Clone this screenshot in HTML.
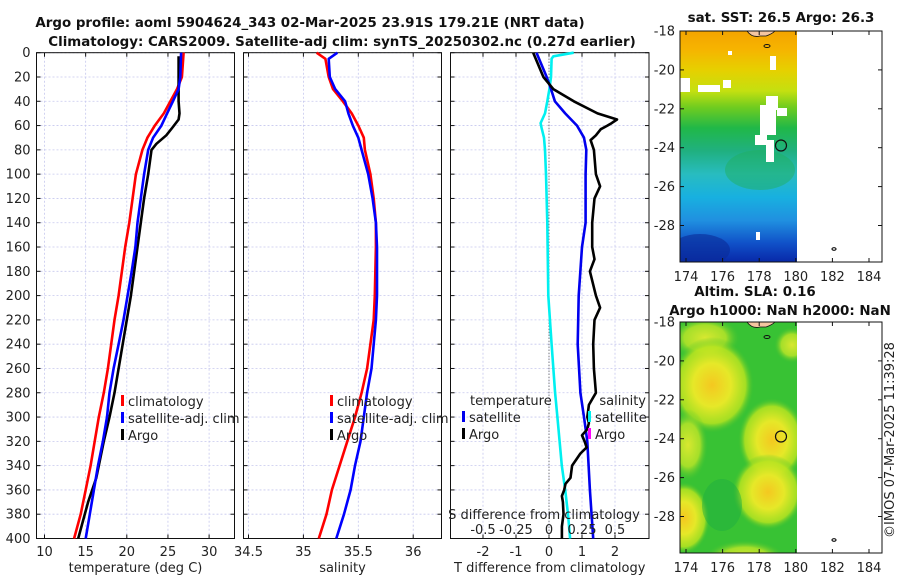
<!DOCTYPE html>
<html><head><meta charset="utf-8"><style>
html,body{margin:0;padding:0;background:#fff;}
svg{display:block;font-family:"DejaVu Sans","Liberation Sans",sans-serif;}
.t{font-size:13px;fill:#222;}
.ttl{font-size:13.4px;font-weight:bold;fill:#111;}
</style></head><body>
<svg id="fig" width="900" height="580" viewBox="0 0 900 580">
<defs>
<linearGradient id="sstg" x1="0" y1="0" x2="0" y2="1">
<stop offset="0" stop-color="#f4a400"/><stop offset="0.08" stop-color="#f6b400"/>
<stop offset="0.17" stop-color="#e6d000"/><stop offset="0.26" stop-color="#c4e010"/>
<stop offset="0.33" stop-color="#70cc20"/><stop offset="0.42" stop-color="#20b848"/>
<stop offset="0.52" stop-color="#20b080"/><stop offset="0.62" stop-color="#28bcc0"/>
<stop offset="0.72" stop-color="#18b0e0"/><stop offset="0.82" stop-color="#2090e0"/>
<stop offset="0.92" stop-color="#1050c8"/><stop offset="1" stop-color="#0828a8"/>
</linearGradient>
<radialGradient id="blob"><stop offset="0" stop-color="#f4c820"/><stop offset="0.45" stop-color="#e6e828"/><stop offset="0.8" stop-color="#b8e420" stop-opacity="0.85"/><stop offset="1" stop-color="#40c030" stop-opacity="0"/></radialGradient>
<radialGradient id="blob2"><stop offset="0" stop-color="#d8e830"/><stop offset="0.6" stop-color="#b8e428" stop-opacity="0.85"/><stop offset="1" stop-color="#40c030" stop-opacity="0"/></radialGradient>
<clipPath id="m1c"><rect x="680" y="31" width="117" height="231"/></clipPath>
<clipPath id="m2c"><rect x="680" y="322" width="117" height="231"/></clipPath>
</defs>

<text class="ttl" x="310" y="27" text-anchor="middle">Argo profile: aoml 5904624_343 02-Mar-2025 23.91S 179.21E (NRT data)</text>
<text class="ttl" x="342" y="46" text-anchor="middle">Climatology: CARS2009. Satellite-adj clim: synTS_20250302.nc (0.27d earlier)</text>

<g id="p1"></g>
<g id="p2"></g>
<g id="p3"></g>

<!-- Map 1 -->
<g>
<text class="ttl" x="781" y="22" text-anchor="middle">sat. SST: 26.5 Argo: 26.3</text>
<g clip-path="url(#m1c)">
<rect x="680" y="31" width="117" height="231" fill="url(#sstg)"/>
<ellipse cx="760" cy="170" rx="35" ry="20" fill="#20b060" opacity="0.5"/>
<ellipse cx="700" cy="250" rx="30" ry="16" fill="#0a2c98" opacity="0.6"/>
<rect x="680" y="78" width="10" height="14" fill="#fff"/>
<rect x="698" y="85" width="22" height="7" fill="#fff"/>
<rect x="723" y="80" width="8" height="8" fill="#fff"/>
<rect x="766" y="96" width="12" height="14" fill="#fff"/>
<rect x="760" y="105" width="16" height="30" fill="#fff"/>
<rect x="777" y="108" width="10" height="8" fill="#fff"/>
<rect x="755" y="135" width="12" height="10" fill="#fff"/>
<rect x="766" y="140" width="8" height="22" fill="#fff"/>
<rect x="770" y="56" width="6" height="14" fill="#fff"/>
<rect x="728" y="51" width="4" height="4" fill="#fff"/>
<rect x="756" y="232" width="4" height="8" fill="#fff"/>
<path d="M747 31 Q752 38 760 36 L766 36 Q772 34 775 31 Z" fill="#f5c6a0" stroke="#111" stroke-width="0.8"/>
</g>
<rect x="680" y="31" width="202" height="231" fill="none" stroke="#111" stroke-width="1"/>
<circle cx="781" cy="145.5" r="5.5" fill="none" stroke="#111" stroke-width="1.2"/>
<ellipse cx="767" cy="46" rx="3" ry="1.5" fill="none" stroke="#111"/>
<ellipse cx="834" cy="249" rx="2" ry="1.3" fill="none" stroke="#111" stroke-width="1.2"/>
<g id="m1ax"></g>
</g>

<!-- Map 2 -->
<g>
<text class="ttl" x="755" y="296" text-anchor="middle">Altim. SLA: 0.16</text>
<text class="ttl" x="780" y="315" text-anchor="middle">Argo h1000: NaN h2000: NaN</text>
<g clip-path="url(#m2c)">
<rect x="680" y="322" width="117" height="231" fill="#38c234"/>
<ellipse cx="705" cy="338" rx="35" ry="22" fill="url(#blob2)"/>
<ellipse cx="712" cy="385" rx="42" ry="48" fill="url(#blob)"/>
<ellipse cx="688" cy="445" rx="20" ry="36" fill="url(#blob2)"/>
<ellipse cx="772" cy="440" rx="34" ry="42" fill="url(#blob)"/>
<ellipse cx="768" cy="492" rx="36" ry="38" fill="url(#blob)"/>
<ellipse cx="684" cy="518" rx="26" ry="36" fill="url(#blob)"/>
<ellipse cx="745" cy="558" rx="40" ry="18" fill="url(#blob2)"/>
<ellipse cx="792" cy="345" rx="18" ry="18" fill="url(#blob2)"/>
<ellipse cx="722" cy="505" rx="20" ry="26" fill="#1eae40" opacity="0.5"/>
<path d="M747 322 Q752 329 760 327 L766 327 Q772 325 775 322 Z" fill="#f5c6a0" stroke="#111" stroke-width="0.8"/>
</g>
<rect x="680" y="322" width="202" height="231" fill="none" stroke="#111" stroke-width="1"/>
<circle cx="781" cy="436.5" r="5.5" fill="none" stroke="#111" stroke-width="1.2"/>
<ellipse cx="767" cy="337" rx="3" ry="1.5" fill="none" stroke="#111"/>
<ellipse cx="834" cy="540" rx="2" ry="1.3" fill="none" stroke="#111" stroke-width="1.2"/>
<g id="m2ax"></g>
</g>

<text class="t" transform="translate(894,440) rotate(-90)" text-anchor="middle" font-size="13.5px">©IMOS 07-Mar-2025 11:39:28</text>

<script>
// ---- depth axis ----
const depthTicks = [0,20,40,60,80,100,120,140,160,180,200,220,240,260,280,300,320,340,360,380,400];
// ---- panel 1: temperature ----
const tempTicks = [10,15,20,25,30];
const climTDepth = [0,20,30,40,50,60,70,80,100,120,140,160,180,200,220,240,260,280,300,320,340,360,380,400];
const climT = [26.9,26.7,26.1,25.3,24.5,23.4,22.5,21.9,21.1,20.7,20.3,19.8,19.4,19.0,18.5,18.1,17.7,17.2,16.6,16.1,15.6,15.0,14.4,13.6];
const satTDepth = [0,20,30,40,50,60,70,80,100,120,140,160,180,200,220,240,260,280,300,320,340,360,380,400];
const satT = [26.6,26.5,26.3,25.6,24.9,24.2,23.2,22.6,22.1,21.7,21.3,21.05,20.6,20.1,19.6,19.0,18.4,17.9,17.6,17.1,16.5,16.0,15.5,15.0];
const argoTDepth = [3,20,40,50,55,62,68,75,80,100,120,140,160,180,200,220,240,260,280,300,320,340,350,360,370,380,400];
const argoT = [26.3,26.3,26.3,26.4,26.3,25.5,24.8,23.6,23.0,22.6,22.1,21.7,21.3,20.9,20.5,20.0,19.5,19.0,18.5,17.9,17.2,16.6,16.3,15.8,15.3,14.9,14.1];
// ---- panel 2: salinity ----
const salTicks = [34.5,35,35.5,36];
const climSDepth = [0,5,20,30,40,50,60,70,80,100,120,140,160,200,220,240,260,280,300,320,340,360,380,400];
const climS = [35.12,35.2,35.23,35.27,35.36,35.44,35.5,35.55,35.56,35.61,35.64,35.66,35.66,35.65,35.64,35.61,35.58,35.53,35.47,35.40,35.33,35.26,35.21,35.14];
const satSDepth = [0,5,20,30,40,50,60,70,80,100,120,140,160,200,220,240,260,280,300,320,340,360,380,400];
const satS = [35.31,35.23,35.24,35.29,35.38,35.41,35.45,35.5,35.53,35.59,35.63,35.66,35.67,35.67,35.66,35.64,35.62,35.58,35.55,35.52,35.47,35.43,35.37,35.30];
// ---- panel 3: differences ----
const dTTicks = [-2,-1,0,1,2];
const dSTicks = [-0.5,-0.25,0,0.25,0.5];
const dSTickLabels = ["-0.5","-0.25","0","0.25","0.5"];
const argoDTDepth = [0,20,30,40,50,55,58,60,63,68,72,80,100,110,120,140,160,170,180,200,210,220,240,260,280,290,300,305,310,315,320,325,330,340,350,355,360,365,370,380,390,400];
const argoDT = [-0.48,-0.17,0.13,0.75,1.47,2.06,1.9,1.77,1.57,1.42,1.26,1.36,1.42,1.55,1.38,1.31,1.31,1.38,1.24,1.42,1.55,1.38,1.34,1.36,1.42,1.21,1.16,1.21,1.16,1.0,1.08,1.14,0.95,0.7,0.65,0.5,0.46,0.39,0.42,0.44,0.39,0.39];
const satDTDepth = [0,20,30,40,50,60,70,80,100,140,160,200,240,280,300,320,360,400];
const satDT = [-0.38,-0.07,0.06,0.18,0.49,0.85,1.06,1.13,1.11,1.11,1.0,0.9,0.87,0.95,1.06,1.16,1.24,1.34];
const satDSDepth = [0,3,5,20,30,40,50,58,62,70,80,100,140,200,240,280,300,320,340,360,380,400];
const satDS = [0.187,0.033,0.02,0.015,0.003,-0.013,-0.03,-0.064,-0.056,-0.038,-0.03,-0.023,-0.013,-0.005,0.02,0.046,0.064,0.08,0.097,0.123,0.144,0.16];
// ---- map ticks ----
const lonTicks = [174,176,178,180,182,184];
const latTicks = [-18,-20,-22,-24,-26,-28];

const NS = "http://www.w3.org/2000/svg";
const TOP = 52.7, BOT = 538.5;
function yD(d){ return TOP + (d/400)*(BOT-TOP); }
function mk(tag, attrs, parent){ const e=document.createElementNS(NS,tag); for(const k in attrs) e.setAttribute(k,attrs[k]); parent.appendChild(e); return e; }

function panel(g, x0, x1, xs, xticks, labels, showY, label){
  for (const d of depthTicks){
    const l = mk('line',{x1:x0,x2:x1,y1:yD(d),y2:yD(d),stroke:'#c6c8ee','stroke-width':0.8,'stroke-dasharray':'2,2'},g);
    
    
    mk('line',{x1:x0,x2:x0+4,y1:yD(d),y2:yD(d),stroke:'#111'},g);
    mk('line',{x1:x1-4,x2:x1,y1:yD(d),y2:yD(d),stroke:'#111'},g);
    if (showY){
      const t = mk('text',{x:x0-6,y:yD(d)+4.5,'text-anchor':'end',class:'t'},g);
      t.textContent = d;
      
      
    }
  }
  xticks.forEach((v,i)=>{
    const X = xs(v);
    const l = mk('line',{x1:X,x2:X,y1:TOP,y2:BOT,stroke:'#c6c8ee','stroke-width':0.8,'stroke-dasharray':'2,2'},g);
    
    
    mk('line',{x1:X,x2:X,y1:BOT-4,y2:BOT,stroke:'#111'},g);
    mk('line',{x1:X,x2:X,y1:TOP,y2:TOP+4,stroke:'#111'},g);
    const t = mk('text',{x:X,y:556,'text-anchor':'middle',class:'t'},g);
    t.textContent = labels[i];
    
    
  });
  const r = mk('rect',{x:x0,y:TOP,width:x1-x0,height:BOT-TOP,fill:'none',stroke:'#111','stroke-width':1},g);
  
  
  const al = mk('text',{x:(x0+x1)/2,y:572,'text-anchor':'middle',class:'t','font-size':'14.5px'},g);
  al.textContent = label;
  
  
}
function line(g, xs, depths, vals, color, name, w){
  const d = depths.map((dd,i)=>(i?'L':'M')+xs(vals[i]).toFixed(1)+' '+yD(dd).toFixed(1)).join(' ');
  const p = mk('path',{d:d,fill:'none',stroke:color,'stroke-width':w||2.6,'stroke-linejoin':'round'},g);
  
  
}
function legend(g, x, y, items){
  items.forEach((it,i)=>{
    mk('rect',{x:x,y:y+i*17-6,width:3,height:11,fill:it[1]},g);
    const t = mk('text',{x:x+7,y:y+i*17+5,class:'t','font-size':'14px'},g);
    t.textContent = it[0];
    
    
  });
}

// Panel 1
const p1 = document.getElementById('p1');
const xT = v => 44.5 + (v-10)*8.23;
panel(p1, 36.5, 234.5, xT, tempTicks, tempTicks.map(String), true, 'temperature (deg C)');
line(p1, xT, climTDepth, climT, '#ff0000', 'climatology-temp-line');
line(p1, xT, argoTDepth, argoT, '#000000', 'argo-temp-line');
line(p1, xT, satTDepth, satT, '#0000ff', 'satellite-temp-line');
legend(p1, 121, 401, [['climatology','#ff0000'],['satellite-adj. clim','#0000ff'],['Argo','#000']]);

// Panel 2
const p2 = document.getElementById('p2');
const xS = v => 248.5 + (v-34.5)*109.8;
panel(p2, 243.5, 441.5, xS, salTicks, salTicks.map(String), false, 'salinity');
line(p2, xS, climSDepth, climS, '#ff0000', 'climatology-salinity-line');
line(p2, xS, satSDepth, satS, '#0000ff', 'satellite-salinity-line');
legend(p2, 330, 401, [['climatology','#ff0000'],['satellite-adj. clim','#0000ff'],['Argo','#000']]);

// Panel 3
const p3 = document.getElementById('p3');
const xdT = v => 549 + v*33;
const xdS = v => 549 + v*132;
panel(p3, 450.5, 649, xdT, dTTicks, dTTicks.map(String), false, 'T difference from climatology');
const zl = mk('line',{x1:xdT(0),x2:xdT(0),y1:TOP,y2:BOT,stroke:'#555','stroke-width':1,'stroke-dasharray':'1,2'},p3);


line(p3, xdS, satDSDepth, satDS, '#00f0f0', 'satellite-salinity-diff-line');
line(p3, xdT, satDTDepth, satDT, '#0000ee', 'satellite-temp-diff-line');
line(p3, xdT, argoDTDepth, argoDT, '#000', 'argo-temp-diff-line');
{
  const t1 = mk('text',{x:470,y:405,class:'t','font-size':'14px'},p3); t1.textContent='temperature';
  
  
  const t2 = mk('text',{x:646,y:405,'text-anchor':'end',class:'t','font-size':'14px'},p3); t2.textContent='salinity';
  
  
  legend(p3, 462, 417, [['satellite','#0000ee'],['Argo','#000']]);
  legend(p3, 588, 417, [['satellite','#00f0f0'],['Argo','#ff00ff']]);
  const st = mk('text',{x:544,y:519,'text-anchor':'middle',class:'t','font-size':'14px'},p3); st.textContent='S difference from climatology';
  
  
  dSTicks.forEach((v,i)=>{
    const t = mk('text',{x:xdS(v),y:534,'text-anchor':'middle',class:'t'},p3);
    t.textContent = dSTickLabels[i];
    
    
  });
}

// Map axes
function mapAxes(gid, top){
  const g = document.getElementById(gid);
  const lx = v => 686 + (v-174)*18.3;
  const ly = v => top + (-18 - v)*19.45;
  lonTicks.forEach(v=>{
    mk('line',{x1:lx(v),x2:lx(v),y1:top+231-4,y2:top+231,stroke:'#111'},g);
    mk('line',{x1:lx(v),x2:lx(v),y1:top,y2:top+4,stroke:'#111'},g);
    const t = mk('text',{x:lx(v),y:top+250,'text-anchor':'middle',class:'t'},g);
    t.textContent = v;
    
    
  });
  latTicks.forEach(v=>{
    mk('line',{x1:680,x2:684,y1:ly(v),y2:ly(v),stroke:'#111'},g);
    mk('line',{x1:878,x2:882,y1:ly(v),y2:ly(v),stroke:'#111'},g);
    const t = mk('text',{x:675,y:ly(v)+4.5,'text-anchor':'end',class:'t'},g);
    t.textContent = v;
    
    
  });
}
mapAxes('m1ax', 31);
mapAxes('m2ax', 322);
</script>
</svg>
</body></html>
